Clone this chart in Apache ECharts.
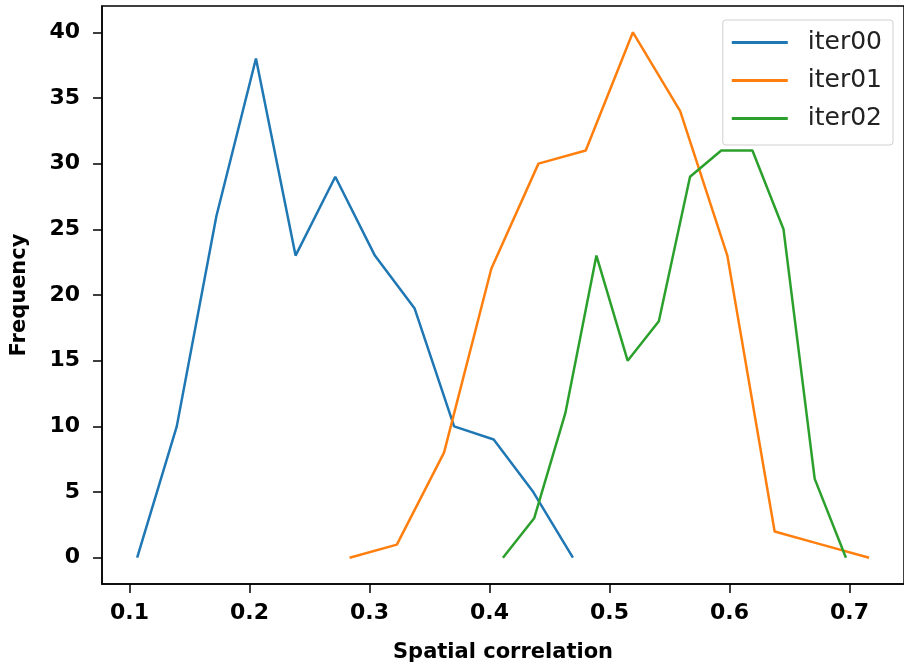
<!DOCTYPE html>
<html>
<head>
<meta charset="utf-8">
<script src="https://cdn.jsdelivr.net/npm/echarts@6/dist/echarts.min.js"></script>
<style>
  html, body { margin: 0; padding: 0; background: #fff; }
  #chart { width: 904px; height: 668px; }
</style>
</head>
<body>
<div id="chart"></div>
<script>
// bin centres and counts per iteration
const iter00X = [0.1064, 0.1394, 0.1724, 0.2054, 0.2384, 0.2715, 0.3045, 0.3375, 0.3705, 0.4035, 0.4365, 0.4695]
const iter00Y = [0, 10, 26, 38, 23, 29, 23, 19, 10, 9, 5, 0]
const iter01X = [0.2834, 0.3228, 0.3621, 0.4015, 0.4408, 0.4802, 0.5195, 0.5589, 0.5982, 0.6376, 0.6769, 0.7163]
const iter01Y = [0, 1, 8, 22, 30, 31, 40, 34, 23, 2, 1, 0]
const iter02X = [0.4112, 0.4372, 0.4632, 0.4891, 0.5151, 0.5411, 0.5671, 0.5931, 0.6191, 0.6450, 0.6710, 0.6970]
const iter02Y = [0, 3, 11, 23, 15, 18, 29, 31, 31, 25, 6, 0]
const xTicks = [0.1, 0.2, 0.3, 0.4, 0.5, 0.6, 0.7]
const yTicks = [0, 5, 10, 15, 20, 25, 30, 35, 40]

const colors = ['#1f77b4', '#ff7f0e', '#2ca02c']
const labelFont = {
  color: '#000',
  fontFamily: 'DejaVu Sans',
  fontWeight: 'bold',
  fontSize: 22
}

function pairs(xs, ys) {
  return xs.map((x, i) => [x, ys[i]])
}

const chart = echarts.init(document.getElementById('chart'))
const option = {
  animation: false,
  color: colors,
  grid: {
    left: 102,
    top: 6,
    width: 805,
    height: 579,
    show: true,
    borderColor: '#000',
    borderWidth: 1.5,
    backgroundColor: '#fff'
  },
  legend: {
    orient: 'vertical',
    right: 11,
    top: 20,
    icon: 'rect',
    itemWidth: 56,
    itemHeight: 3,
    itemGap: 13,
    padding: [10, 11, 14, 9],
    backgroundColor: '#fff',
    borderColor: '#d0d0d0',
    borderWidth: 1,
    borderRadius: 3,
    textStyle: {
      fontFamily: 'DejaVu Sans',
      fontSize: 25,
      color: '#222',
      padding: [0, 0, 0, 15]
    },
    data: ['iter00', 'iter01', 'iter02']
  },
  xAxis: {
    type: 'value',
    min: 0.0771,
    max: 0.7454,
    name: 'Spatial correlation',
    nameLocation: 'middle',
    nameGap: 58,
    nameTextStyle: Object.assign({}, labelFont, {fontSize: 21}),
    axisLine: {onZero: false, lineStyle: {color: '#000', width: 1.5}},
    axisTick: {show: true, inside: false, length: 9, customValues: xTicks, lineStyle: {color: '#000', width: 1.5}},
    axisLabel: Object.assign({}, labelFont, {
      margin: 18,
      customValues: xTicks,
      formatter: v => v.toFixed(1)
    }),
    splitLine: {show: false}
  },
  yAxis: {
    type: 'value',
    min: -2,
    max: 42,
    name: 'Frequency',
    nameLocation: 'middle',
    nameGap: 72,
    nameTextStyle: Object.assign({}, labelFont, {fontSize: 21}),
    axisLine: {show: true, onZero: false, lineStyle: {color: '#000', width: 1.5}},
    axisTick: {show: true, inside: false, length: 9, customValues: yTicks, lineStyle: {color: '#000', width: 1.5}},
    axisLabel: Object.assign({}, labelFont, {
      margin: 22,
      customValues: yTicks
    }),
    splitLine: {show: false}
  },
  series: [
    {name: 'iter00', type: 'line', data: pairs(iter00X, iter00Y)},
    {name: 'iter01', type: 'line', data: pairs(iter01X, iter01Y)},
    {name: 'iter02', type: 'line', data: pairs(iter02X, iter02Y)}
  ].map(s => Object.assign(s, {
    symbol: 'none',
    lineStyle: {width: 2.5},
    z: 3
  }))
}
chart.setOption(option)
</script>
</body>
</html>
